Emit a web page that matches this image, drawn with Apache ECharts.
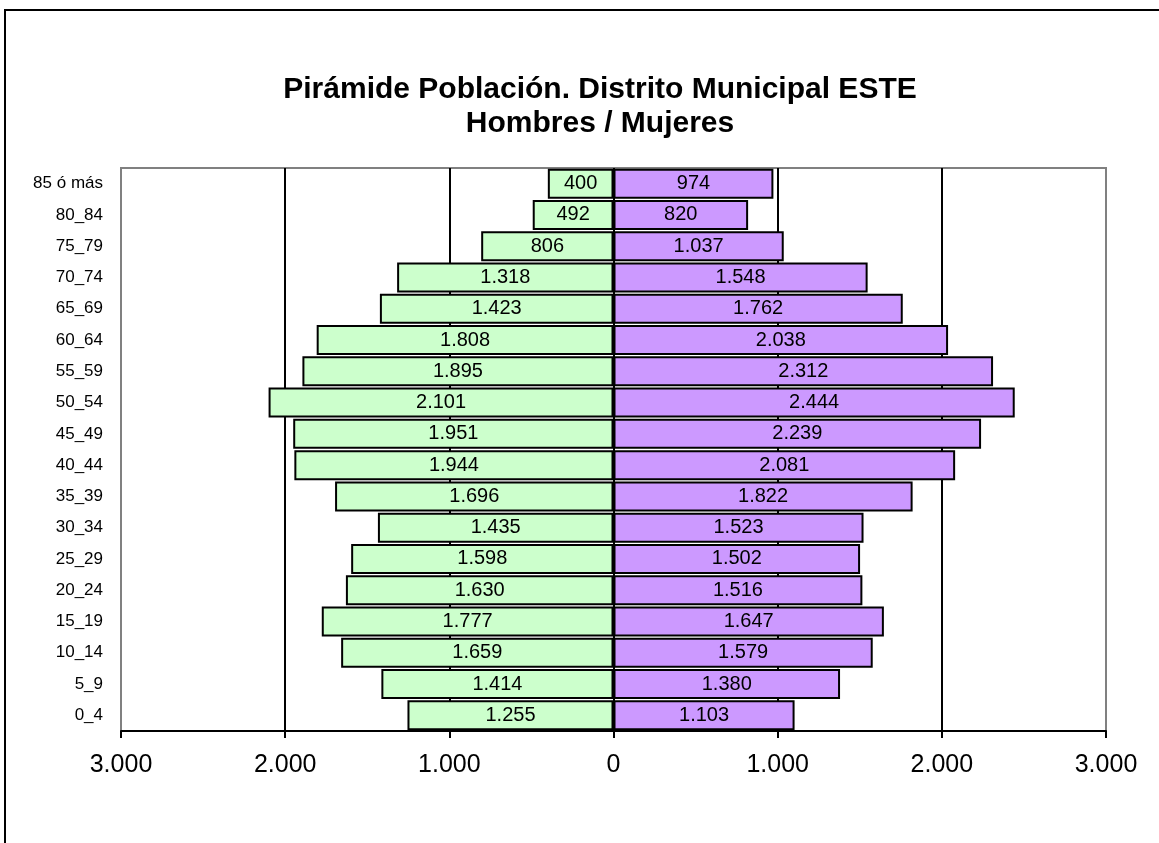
<!DOCTYPE html>
<html>
<head>
<meta charset="utf-8">
<script src="https://cdn.jsdelivr.net/npm/echarts@6/dist/echarts.min.js"></script>
<style>
  html, body { margin: 0; padding: 0; background: #fff; }
  #main { width: 1159px; height: 843px; }
</style>
</head>
<body>
<div id="main"></div>
<script>
// grupos de edad, de abajo (0_4) a arriba (85 ó más)
const grupos = ['0_4', '5_9', '10_14', '15_19', '20_24', '25_29', '30_34', '35_39', '40_44',
  '45_49', '50_54', '55_59', '60_64', '65_69', '70_74', '75_79', '80_84', '85 ó más'];
const hombres = [1255, 1414, 1659, 1777, 1630, 1598, 1435, 1696, 1944,
  1951, 2101, 1895, 1808, 1423, 1318, 806, 492, 400];
const mujeres = [1103, 1380, 1579, 1647, 1516, 1502, 1523, 1822, 2081,
  2239, 2444, 2312, 2038, 1762, 1548, 1037, 820, 974];

// formato con punto de miles
function miles(v) {
  return Math.abs(v).toString().replace(/\B(?=(\d{3})+(?!\d))/g, '.');
}

const chart = echarts.init(document.getElementById('main'));

const option = {
  backgroundColor: '#fff',
  animation: false,
  textStyle: { fontFamily: 'Liberation Sans, Arial, sans-serif' },
  title: {
    text: 'Pirámide Población. Distrito Municipal ESTE\nHombres / Mujeres',
    left: 595,
    top: 68,
    textAlign: 'center',
    textStyle: {
      fontFamily: 'Liberation Sans, Arial, sans-serif',
      fontSize: 30,
      fontWeight: 'bold',
      color: '#000',
      lineHeight: 34
    }
  },
  graphic: [{
    type: 'rect',
    shape: { x: 5, y: 10, width: 1160, height: 850 },
    style: { fill: 'none', stroke: '#000', lineWidth: 2 },
    silent: true,
    z: -10
  }],
  grid: {
    left: 121, right: 53, top: 168, bottom: 112,
    show: true, borderColor: '#808080', borderWidth: 2,
    containLabel: false
  },
  xAxis: {
    type: 'value',
    min: -3000, max: 3000, interval: 1000,
    axisLine: { show: true, onZero: false, lineStyle: { color: '#000', width: 2 } },
    axisTick: { show: true, length: 7, lineStyle: { color: '#000', width: 2 } },
    axisLabel: {
      formatter: v => miles(v),
      fontSize: 25, color: '#000', margin: 22
    },
    splitLine: {
      show: true,
      lineStyle: { color: ['#808080', '#000', '#000', '#000', '#000', '#000', '#808080'], width: 2 }
    }
  },
  yAxis: {
    type: 'category',
    data: grupos,
    axisLine: { show: false },
    axisTick: { show: false },
    axisLabel: { fontSize: 17, color: '#000', margin: 18 }
  },
  series: [
    {
      name: 'Hombres',
      type: 'bar',
      data: hombres.map(v => -v),
      barCategoryGap: '4%',
      barGap: '-100%',
      itemStyle: { color: '#CCFFCC', borderColor: '#000', borderWidth: 2 },
      label: {
        show: true, position: 'inside', color: '#000', fontSize: 20,
        formatter: p => miles(p.value)
      }
    },
    {
      name: 'Mujeres',
      type: 'bar',
      data: mujeres,
      barCategoryGap: '4%',
      barGap: '-100%',
      itemStyle: { color: '#CC99FF', borderColor: '#000', borderWidth: 2 },
      label: {
        show: true, position: 'inside', color: '#000', fontSize: 20,
        formatter: p => miles(p.value)
      }
    }
  ]
};

chart.setOption(option);
</script>
</body>
</html>
